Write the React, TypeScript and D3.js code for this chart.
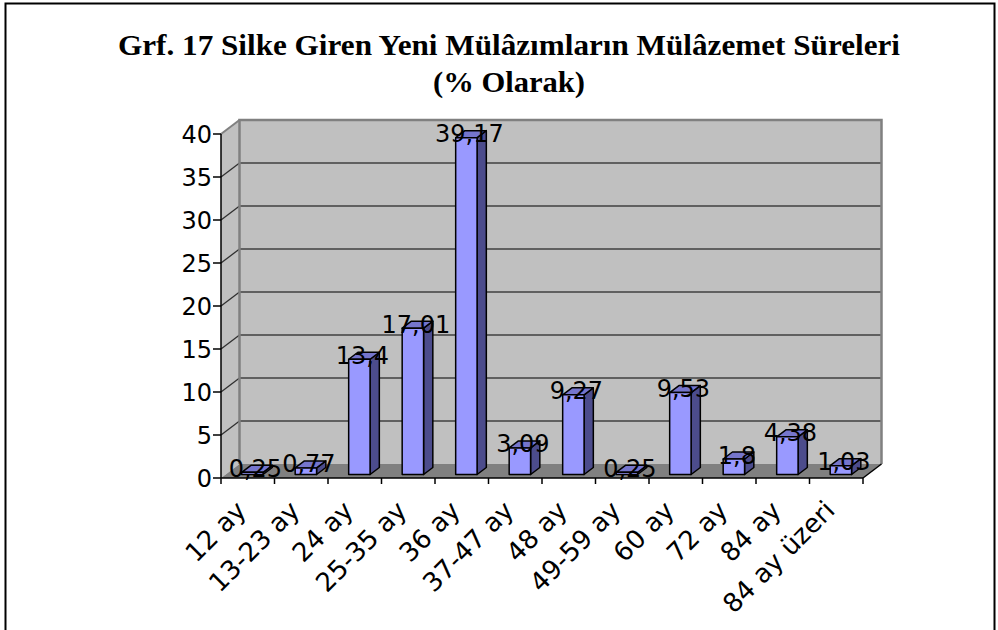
import React from 'react';
import * as d3 from 'd3';

const categories = ['12 ay', '13-23 ay', '24 ay', '25-35 ay', '36 ay', '37-47 ay', '48 ay', '49-59 ay', '60 ay', '72 ay', '84 ay', '84 ay üzeri'];
const values = [0.25, 0.77, 13.4, 17.01, 39.17, 3.09, 9.27, 0.25, 9.53, 1.8, 4.38, 1.03];
const valueLabels = ['0,25', '0,77', '13,4', '17,01', '39,17', '3,09', '9,27', '0,25', '9,53', '1,8', '4,38', '1,03'];
const yTicks = [0, 5, 10, 15, 20, 25, 30, 35, 40];
const titleLines = ['Grf. 17  Silke Giren Yeni Mülâzımların Mülâzemet Süreleri', '(% Olarak)'];

// depth of the 3d box
const DX = 18.5;
const DY = -14;

const sans = '"DejaVu Sans", Verdana, sans-serif';

export default function App() {
    const x = d3.scaleBand<string>().domain(categories).range([221, 863]).padding(0);
    const y = d3.scaleLinear().domain([0, 40]).range([478, 134]);

    const [x0, x1] = x.range();
    const yb = y(0), yt = y(40);
    const bw = x.bandwidth();
    const barW = bw * 0.4;

    const pts = (p: number[][]) => p.map(d => d.join(',')).join(' ');

    return (
        <svg width={998} height={630} style={{position: 'absolute', left: 0, top: 0, background: '#fff'}}>
            <rect x={5.5} y={3.5} width={989} height={700} fill="#fff" stroke="#000" strokeWidth={2}/>

            {titleLines.map((t, i) => (
                <text key={t} x={509} y={i === 0 ? 55 : 92} textAnchor="middle"
                      textLength={i === 0 ? 782 : 152} lengthAdjust="spacingAndGlyphs"
                      style={{font: 'bold 30px "Liberation Serif", "Times New Roman", serif'}} fill="#000">{t}</text>
            ))}

            {/* back wall */}
            <rect x={x0 + DX} y={yt + DY} width={x1 - x0} height={yb - yt} fill="#c0c0c0"/>
            {/* side wall */}
            <polygon points={pts([[x0, yt], [x0 + DX, yt + DY], [x0 + DX, yb + DY], [x0, yb]])} fill="#c0c0c0"/>
            {/* floor */}
            <polygon points={pts([[x0, yb], [x1, yb], [x1 + DX, yb + DY], [x0 + DX, yb + DY]])} fill="#808080"/>

            {yTicks.filter(t => t > 0 && t < 40).map(t => (
                <g key={t}>
                    <line x1={x0 + DX} x2={x1 + DX} y1={y(t) + DY} y2={y(t) + DY} stroke="#404040" strokeWidth={1.5}/>
                    <line x1={x0} x2={x0 + DX} y1={y(t)} y2={y(t) + DY} stroke="#303030" strokeWidth={1.3}/>
                </g>
            ))}

            {/* wall borders */}
            <polyline points={pts([[x0 + DX, yb + DY], [x0 + DX, yt + DY], [x1 + DX, yt + DY], [x1 + DX, yb + DY]])}
                      fill="none" stroke="#808080" strokeWidth={2.5}/>
            <line x1={x0} y1={yt} x2={x0 + DX} y2={yt + DY} stroke="#808080" strokeWidth={2}/>

            {/* bars */}
            {values.map((v, i) => {
                const bx = (x(categories[i]) as number) + (bw - barW) / 2 + DX * 0.25;
                const base = yb + DY * 0.25;
                const top = y(v) + DY * 0.25;
                const ddx = DX * 0.5, ddy = DY * 0.5;
                return (
                    <g key={i} stroke="#000" strokeWidth={1.5} strokeLinejoin="round">
                        <polygon points={pts([[bx + barW, base], [bx + barW, top], [bx + barW + ddx, top + ddy], [bx + barW + ddx, base + ddy]])} fill="#4c4c8c"/>
                        <polygon points={pts([[bx, top], [bx + barW, top], [bx + barW + ddx, top + ddy], [bx + ddx, top + ddy]])} fill="#7575cc"/>
                        <rect x={bx} y={top} width={barW} height={base - top} fill="#9999ff"/>
                    </g>
                );
            })}

            {/* axes */}
            <line x1={x0} x2={x0} y1={yt} y2={yb} stroke="#000" strokeWidth={1.5}/>
            <line x1={x0} x2={x1} y1={yb} y2={yb} stroke="#000" strokeWidth={1.5}/>
            <line x1={x1} y1={yb} x2={x1 + DX} y2={yb + DY} stroke="#000" strokeWidth={1.5}/>
            {yTicks.map(t => (
                <g key={t}>
                    <line x1={x0 - 8} x2={x0} y1={y(t)} y2={y(t)} stroke="#000" strokeWidth={1.5}/>
                    <text x={x0 - 9} y={y(t)} dy="0.36em" textAnchor="end" style={{font: `24px ${sans}`}} fill="#000">{t}</text>
                </g>
            ))}
            {d3.range(categories.length + 1).map(i => (
                <line key={i} x1={x0 + i * bw} x2={x0 + i * bw} y1={yb} y2={yb + 6} stroke="#000" strokeWidth={1.5}/>
            ))}
            {categories.map(c => {
                const cx = (x(c) as number) + bw / 2;
                return (
                    <text key={c} transform={`translate(${cx},512) rotate(-45)`} textAnchor="end"
                          style={{font: `26px ${sans}`}} fill="#000">{c}</text>
                );
            })}

            {/* data labels */}
            {values.map((v, i) => {
                const cx = (x(categories[i]) as number) + bw / 2 + DX * 0.25 + 3;
                return (
                    <text key={i} x={cx} y={y(v) + 1} textAnchor="middle" style={{font: `24px ${sans}`}} fill="#000">{valueLabels[i]}</text>
                );
            })}
        </svg>
    );
}
